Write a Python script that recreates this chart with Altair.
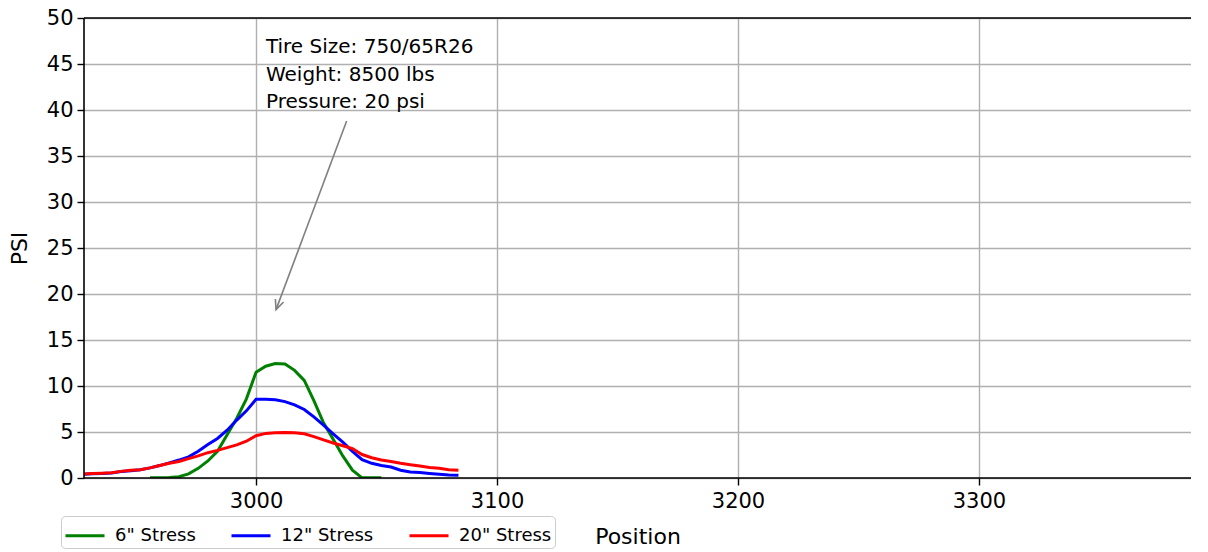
import altair as alt
import pandas as pd

# ---------------- data ----------------
positions = [2928, 2932, 2936, 2940, 2944, 2948, 2952, 2956, 2960, 2964,
             2968, 2972, 2976, 2980, 2984, 2988, 2992, 2996, 3000, 3004,
             3008, 3012, 3016, 3020, 3024, 3028, 3032, 3036, 3040, 3044,
             3048, 3052, 3056, 3060, 3064, 3068, 3072, 3076, 3080, 3084]

stress_6 = [None, None, None, None, None, None, None, 0.02, 0.02, 0.05,
            0.15, 0.45, 1.05, 1.85, 2.9, 4.7, 6.5, 8.6, 11.5, 12.15,
            12.45, 12.4, 11.7, 10.6, 8.4, 6.0, 4.2, 2.4, 0.85, 0.02,
            0.02, 0.02, None, None, None, None, None, None, None, None]

stress_12 = [0.4, 0.45, 0.5, 0.55, 0.7, 0.8, 0.9, 1.1, 1.35, 1.65,
             1.95, 2.3, 2.9, 3.65, 4.3, 5.2, 6.3, 7.3, 8.55, 8.55,
             8.5, 8.3, 7.95, 7.45, 6.65, 5.75, 4.8, 3.9, 2.9, 2.0,
             1.6, 1.35, 1.2, 0.85, 0.65, 0.6, 0.5, 0.4, 0.32, 0.3]

stress_20 = [0.42, 0.48, 0.52, 0.58, 0.72, 0.85, 0.9, 1.1, 1.35, 1.6,
             1.8, 2.1, 2.4, 2.75, 3.0, 3.3, 3.6, 4.0, 4.6, 4.85,
             4.93, 4.95, 4.93, 4.8, 4.5, 4.15, 3.8, 3.5, 3.2, 2.55,
             2.2, 1.95, 1.8, 1.6, 1.45, 1.3, 1.15, 1.05, 0.9, 0.85]

series_names = ['6" Stress', '12" Stress', '20" Stress']
series_colors = ["#008000", "#0000ff", "#ff0000"]

x_ticks = [3000, 3100, 3200, 3300]
y_ticks = [0, 5, 10, 15, 20, 25, 30, 35, 40, 45, 50]
x_domain = [2928.6, 3388.0]
y_domain = [0, 50]

title_text = "Soil Stress: S7_2_FieldHighPressure_302_R3-Wet.csv"
note_lines = ["Tire Size: 750/65R26", "Weight: 8500 lbs", "Pressure: 20 psi"]
note_x = [3004.1, 3004.1, 3004.1]
note_y = [46.2, 43.15, 40.2]

arrow_start = (3037.6, 38.8)
arrow_tip = (3008.3, 18.3)

FONT = "DejaVu Sans"

# ---------------- tables ----------------
rows = []
for name, vals in zip(series_names, [stress_6, stress_12, stress_20]):
    for p, v in zip(positions, vals):
        if v is not None:
            rows.append({"pos": p, "psi": v, "series": name})
df = pd.DataFrame(rows)

notes = pd.DataFrame({"pos": note_x, "psi": note_y, "text": note_lines})
arrow_df = pd.DataFrame({"x": [arrow_start[0]], "y": [arrow_start[1]],
                         "x2": [arrow_tip[0]], "y2": [arrow_tip[1]]})
tip_df = pd.DataFrame({"x": [arrow_tip[0]], "y": [arrow_tip[1]]})

xscale = alt.Scale(domain=x_domain, nice=False, zero=False)
yscale = alt.Scale(domain=y_domain, nice=False, zero=False)

lines = alt.Chart(df).mark_line(strokeWidth=3, clip=True).encode(
    x=alt.X("pos:Q", scale=xscale, title="Position",
            axis=alt.Axis(values=x_ticks, format="d")),
    y=alt.Y("psi:Q", scale=yscale, title="PSI",
            axis=alt.Axis(values=y_ticks, format="d")),
    color=alt.Color("series:N",
                    scale=alt.Scale(domain=series_names, range=series_colors),
                    sort=series_names,
                    legend=alt.Legend(
                        title=None, orient="none", direction="horizontal",
                        legendX=-23, legendY=498,
                        symbolType="M -1 0 L 1.6 0", symbolSize=900,
                        symbolStrokeWidth=3, labelFontSize=18, labelFont=FONT,
                        labelColor="black", labelOffset=18, columnPadding=29,
                        padding=3, strokeColor="#cccccc", fillColor="white",
                        cornerRadius=4)),
)

spine_top = alt.Chart(pd.DataFrame({"v": [y_domain[1]]})).mark_rule(
    color="black", strokeWidth=1.6).encode(y=alt.Y("v:Q", scale=yscale))
spine_bottom = alt.Chart(pd.DataFrame({"v": [y_domain[0]]})).mark_rule(
    color="black", strokeWidth=1.6).encode(y=alt.Y("v:Q", scale=yscale))
spine_left = alt.Chart(pd.DataFrame({"v": [x_domain[0]]})).mark_rule(
    color="black", strokeWidth=1.6).encode(x=alt.X("v:Q", scale=xscale))

note = alt.Chart(notes).mark_text(
    align="left", baseline="alphabetic", fontSize=20, font=FONT, color="black"
).encode(x=alt.X("pos:Q", scale=xscale), y=alt.Y("psi:Q", scale=yscale),
         text="text:N")

arrow_line = alt.Chart(arrow_df).mark_rule(color="#808080", strokeWidth=1.6).encode(
    x=alt.X("x:Q", scale=xscale), y=alt.Y("y:Q", scale=yscale),
    x2="x2:Q", y2="y2:Q")

arrow_head = alt.Chart(tip_df).mark_point(
    shape="M -0.45 -1 L 0 0 L 0.45 -1", angle=20.6, size=380,
    filled=False, stroke="#808080", strokeWidth=1.6, opacity=1
).encode(x=alt.X("x:Q", scale=xscale), y=alt.Y("y:Q", scale=yscale))

chart = alt.layer(lines, note, arrow_line, arrow_head,
                  spine_top, spine_bottom, spine_left).properties(
    width=1107, height=460,
    autosize=alt.AutoSizeParams(type="none"),
    padding={"left": 76, "top": 10, "right": 0, "bottom": 74},
    title=alt.TitleParams(title_text, anchor="start", dx=213, offset=3,
                          baseline="alphabetic", fontSize=20, font=FONT,
                          fontWeight="normal", color="black"),
).configure_view(stroke=None).configure_axis(
    domain=False, grid=True, gridColor="#b0b0b0", gridWidth=1.4,
    tickColor="black", tickWidth=1.4, tickSize=7,
    labelFont=FONT, labelFontSize=21, labelColor="black", labelPadding=4,
    titleFont=FONT, titleFontSize=22, titleColor="black", titleFontWeight="normal",
).configure_axisX(titlePadding=15, labelPadding=5).configure_axisY(titlePadding=15)

chart.save("out.html", embed_options={"renderer": "svg", "actions": False})
